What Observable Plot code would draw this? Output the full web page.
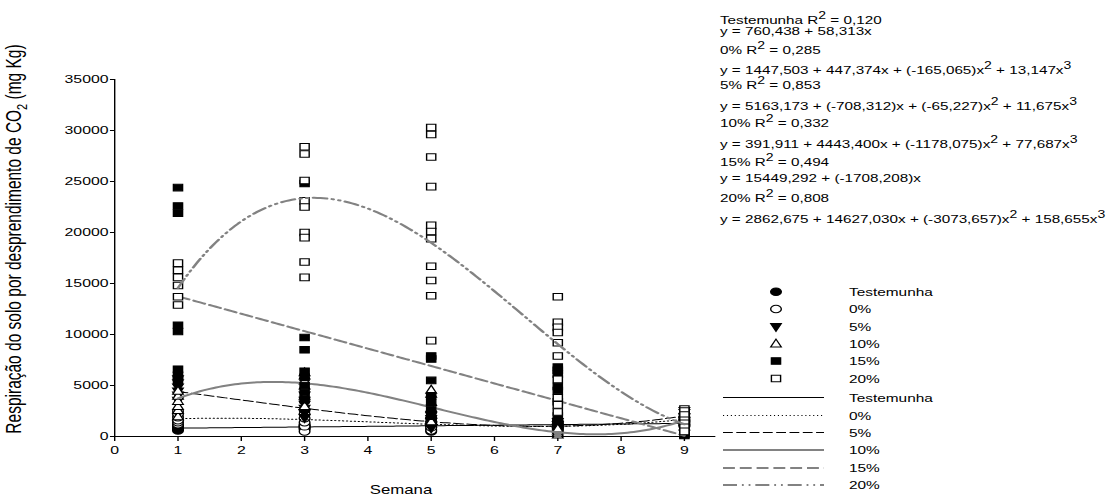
<!DOCTYPE html>
<html><head><meta charset="utf-8">
<script src="https://cdn.jsdelivr.net/npm/d3@7"></script>
<script src="https://cdn.jsdelivr.net/npm/@observablehq/plot@0.6"></script>
<style>html,body{margin:0;padding:0;background:#fff;overflow:hidden}</style>
</head><body><div id="chart"></div>
<script>
// ---------------- data ----------------
const weeks = [1, 3, 5, 7, 9];
const seriesNames = ["Testemunha", "0%", "5%", "10%", "15%", "20%"];
// observed values per week (1, 3, 5, 7, 9)
const testemunha = [
  [600, 700, 800, 900, 1000, 1100],
  [700, 800, 900, 1000, 1100, 1200],
  [500, 700, 900, 1000, 1100, 1300],
  [700, 900, 1100, 1300, 1500],
  [1000, 1200, 1400, 1600]
];
const trat0 = [
  [1200, 1400, 1600, 1900, 2200, 2500],
  [500, 1000, 1400, 1800, 2200, 2600],
  [600, 900, 1200, 1500, 1800],
  [600, 800, 1000, 1200],
  [1200, 1600, 1900, 2200]
];
const trat5 = [
  [3500, 4000, 4400, 4800, 5200, 5600],
  [1800, 2300, 2700, 3100, 3500, 4000],
  [800, 1100, 1400, 1700, 2000],
  [500, 800, 1100, 1400],
  [1500, 1900, 2300, 2500]
];
const trat10 = [
  [2000, 2600, 3000, 3500, 4000, 4500],
  [3000, 4000, 5000, 5500, 6000, 6300],
  [1500, 2200, 2800, 3400, 4200, 4600],
  [200, 400, 600, 800],
  [1000, 1400, 1800, 2100]
];
const trat15 = [
  [24400, 22600, 21900, 10900, 10300, 6600, 6000, 5500],
  [24800, 9700, 8500, 6400, 5800, 5000, 4300, 3600],
  [7900, 7600, 5500, 4000, 3300, 2600, 2000],
  [6800, 6500, 6100, 4900, 4500, 3400, 2000, 1500],
  [100, 200, 300]
];
const trat20 = [
  [17000, 16300, 15600, 14800, 13700, 12900],
  [28400, 27700, 25100, 23100, 22500, 20000, 19500, 17100, 15600],
  [30300, 29600, 27400, 24500, 20700, 20100, 19400, 16700, 15300, 13800, 9400],
  [13700, 11200, 10700, 10200, 9200, 7900, 5600, 3800, 3100, 2400],
  [2700, 2500, 2100, 1600, 1300, 900, 500]
];
// printed regression coefficients (b0, b1, b2, b3)
const coefTestemunha = [760.438, 58.313, 0, 0];
const coef0 = [1447.503, 447.374, -165.065, 13.147];
const coef5 = [5163.173, -708.312, -65.227, 11.675];
const coef10 = [391.911, 4443.400, -1178.075, 77.687];
const coef15 = [15449.292, -1708.208, 0, 0];
const coef20 = [2862.675, 14627.030, -3073.657, 158.655];
const r2Values = ["0,120", "0,285", "0,853", "0,332", "0,494", "0,808"];
const equationTexts = [
  "y = 760,438 + 58,313x",
  "y = 1447,503 + 447,374x + (-165,065)x^2 + 13,147x^3",
  "y = 5163,173 + (-708,312)x + (-65,227)x^2 + 11,675x^3",
  "y = 391,911 + 4443,400x + (-1178,075)x^2 + 77,687x^3",
  "y = 15449,292 + (-1708,208)x",
  "y = 2862,675 + 14627,030x + (-3073,657)x^2 + 158,655x^3"
];
const xTicks = [0, 1, 2, 3, 4, 5, 6, 7, 8, 9];
const yTicks = [0, 5000, 10000, 15000, 20000, 25000, 30000, 35000];
const xLabel = "Semana";
const yLabelMain = "Respiração do solo por desprendimento de CO";
const yLabelSub = "2";
const yLabelEnd = " (mg Kg)";

// ---------------- styles ----------------
const S = 1.4;                 // horizontal stretch of the picture
const W0 = 1109 / S;
const X = px => px / S;
const FONT = '"Liberation Sans", Arial, Helvetica, sans-serif';

const triUp = {draw(ctx, size) { const r = Math.sqrt(size / Math.PI);
  ctx.moveTo(0, -1.1 * r); ctx.lineTo(0.95 * r, 0.9 * r); ctx.lineTo(-0.95 * r, 0.9 * r); ctx.closePath(); }};
const triDown = {draw(ctx, size) { const r = Math.sqrt(size / Math.PI);
  ctx.moveTo(0, 1.1 * r); ctx.lineTo(0.95 * r, -0.9 * r); ctx.lineTo(-0.95 * r, -0.9 * r); ctx.closePath(); }};

const dotStyles = [
  {symbol: "circle", fill: "black", r: 3.8},
  {symbol: "circle", fill: "white", r: 3.8},
  {symbol: triDown, fill: "black", r: 4},
  {symbol: triUp, fill: "white", r: 4},
  {symbol: "square", fill: "black", r: 3.7},
  {symbol: "square", fill: "white", r: 3.7}
];
const GRAY = "#828282";
const lineStyles = [
  {stroke: "black", strokeWidth: 1, dash: null},
  {stroke: "black", strokeWidth: 1, dash: "0.8,2"},
  {stroke: "black", strokeWidth: 1, dash: "7,2.5"},
  {stroke: GRAY, strokeWidth: 2, dash: null},
  {stroke: GRAY, strokeWidth: 2, dash: "8.5,3.5"},
  {stroke: GRAY, strokeWidth: 2, dash: "10,3.5,1.3,3.5,1.3,3.5"}
];

// ---------------- tables ----------------
const seriesValues = [testemunha, trat0, trat5, trat10, trat15, trat20];
const seriesCoefs = [coefTestemunha, coef0, coef5, coef10, coef15, coef20];
const points = seriesValues.map((vals, s) =>
  vals.flatMap((arr, w) => arr.map(v => ({serie: seriesNames[s], semana: weeks[w], valor: v}))));
const xs = d3.range(1, 9.0001, 0.05);
const curves = seriesCoefs.map((c, s) =>
  xs.map(x => ({serie: seriesNames[s], semana: x, valor: c[0] + c[1] * x + c[2] * x * x + c[3] * x * x * x})));

const marks = [
  Plot.ruleY([0], {stroke: "black", strokeWidth: 1}),
  Plot.ruleX([0], {stroke: "black", strokeWidth: 1}),
  Plot.axisX({ticks: xTicks, tickSize: 5, tickPadding: 4, tickFormat: d => String(d), label: null, fontSize: 11.3}),
  Plot.axisY({ticks: yTicks, tickSize: 2.9, tickPadding: 1.5, tickFormat: d => String(d), label: null, fontSize: 11.3})
];
seriesNames.forEach((name, s) => {
  const ds = dotStyles[s];
  marks.push(Plot.dot(points[s], {x: "semana", y: "valor", symbol: ds.symbol, r: ds.r,
    fill: ds.fill, stroke: "black", strokeWidth: 1}));
  const ls = lineStyles[s];
  const opt = {x: "semana", y: "valor", stroke: ls.stroke, strokeWidth: ls.strokeWidth, curve: "linear"};
  if (ls.dash) opt.strokeDasharray = ls.dash;
  marks.push(Plot.line(curves[s], opt));
});

const svgNode = Plot.plot({
  width: W0, height: 499,
  marginLeft: X(114), marginRight: W0 - X(114) - 9.5 * X(63.3), marginTop: 79, marginBottom: 63,
  x: {domain: [0, 9.5]},
  y: {domain: [0, 35000]},
  style: {fontFamily: FONT, fontSize: "11.3px", color: "black", background: "white"},
  marks
});

const svg = d3.select(svgNode);
svg.attr("width", 1109).attr("height", 499)
  .attr("viewBox", `0 0 ${W0} 499`).attr("preserveAspectRatio", "none")
  .style("width", "1109px").style("height", "499px").style("max-width", "none");

const g = svg.append("g").attr("font-family", FONT).attr("fill", "black").attr("text-anchor", "start");

// axis titles
g.append("text").attr("x", X(401)).attr("y", 494).attr("text-anchor", "middle")
  .attr("font-size", 12).text(xLabel);
const yl = g.append("text").attr("transform", `translate(${X(21)},239) rotate(-90)`)
  .attr("text-anchor", "middle").attr("font-size", 15.5);
yl.append("tspan").text(yLabelMain);
yl.append("tspan").attr("dy", 4).attr("font-size", 11).text(yLabelSub);
yl.append("tspan").attr("dy", -4).text(yLabelEnd);

// equations
function richText(str, x, y, size) {
  const t = g.append("text").attr("x", x).attr("y", y).attr("font-size", size).attr("text-anchor", "start");
  const parts = str.split(/\^(\d)/);
  let raised = false;
  parts.forEach((p, i) => {
    if (i % 2 === 1) {
      t.append("tspan").attr("dy", -5).attr("font-size", size * 0.92).text(p);
      raised = true;
    } else if (p) {
      const sp = t.append("tspan").text(p);
      if (raised) { sp.attr("dy", 5); raised = false; }
    }
  });
}
const EQ_FONT = 10.9;
const eqBase = [24, 35, 54, 74, 89, 110, 127, 148, 166, 182, 202, 223];
seriesNames.forEach((name, s) => {
  richText(`${name} R^2 = ${r2Values[s]}`, X(720), eqBase[2 * s], EQ_FONT);
  richText(equationTexts[s], X(720), eqBase[2 * s + 1], EQ_FONT);
});

// legend
const LEG_FONT = 11;
const symRows = [291.7, 309, 327, 343.5, 361, 378.5];
const lineRows = [397.5, 415.5, 432.5, 450, 468, 485];
seriesNames.forEach((name, s) => {
  const ds = dotStyles[s];
  const type = ds.symbol === "circle" ? d3.symbolCircle : ds.symbol === "square" ? d3.symbolSquare : ds.symbol;
  g.append("path").attr("d", d3.symbol(type, Math.PI * ds.r * ds.r)())
    .attr("transform", `translate(${X(776)},${symRows[s]})`)
    .attr("fill", ds.fill).attr("stroke", "black").attr("stroke-width", 1);
  g.append("text").attr("x", X(849)).attr("y", symRows[s] + 4.5).attr("font-size", LEG_FONT)
    .attr("text-anchor", "start").text(name);
  const ls = lineStyles[s];
  const ln = g.append("line").attr("x1", X(723)).attr("x2", X(824)).attr("y1", lineRows[s]).attr("y2", lineRows[s])
    .attr("stroke", ls.stroke).attr("stroke-width", ls.strokeWidth);
  if (ls.dash) ln.attr("stroke-dasharray", ls.dash);
  g.append("text").attr("x", X(849)).attr("y", Math.round(lineRows[s]) + 4.5).attr("font-size", LEG_FONT)
    .attr("text-anchor", "start").text(name);
});

document.getElementById("chart").appendChild(svgNode);
</script>
</body></html>
